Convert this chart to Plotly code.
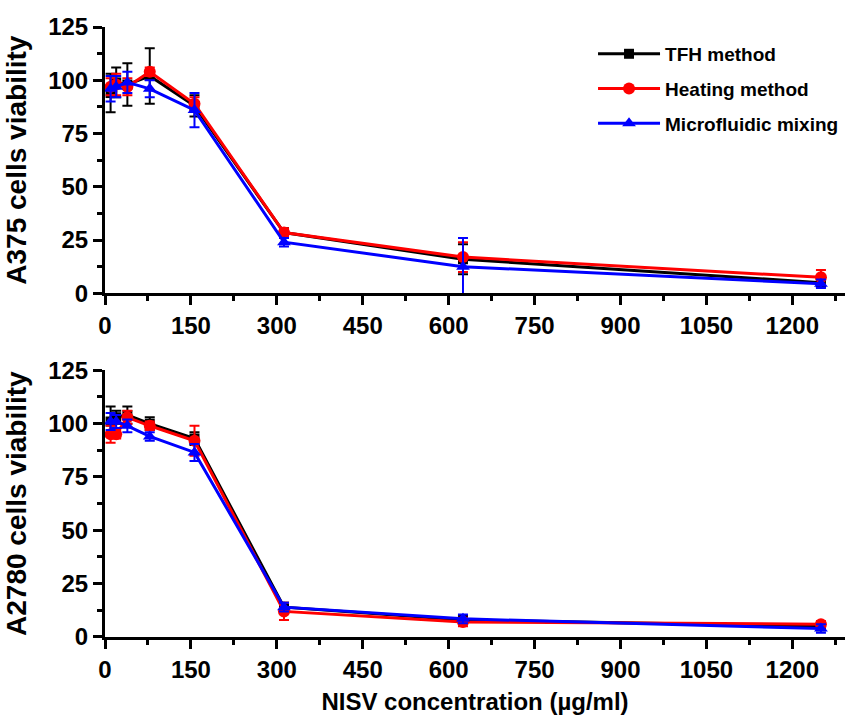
import plotly.graph_objects as go
from plotly.subplots import make_subplots

# NISV concentrations (two-fold dilution series, µg/ml)
concentration = [9.77, 19.53, 39.06, 78.13, 156.25, 312.5, 625, 1250]

# A375 viability (%) and SD
a375_tfh = [94, 99, 98, 102, 88, 28.5, 16, 5]
a375_tfh_sd = [9, 7, 10, 13, 5, 2, 7, 2]
a375_heat = [97, 98, 97, 104, 89, 28.5, 17, 7.5]
a375_heat_sd = [4, 5, 4, 2, 3, 2, 7, 3.5]
a375_micro = [96, 97, 99, 96, 86, 24, 12.5, 4.5]
a375_micro_sd = [6, 5, 5, 4, 8, 2, 13.5, 2]

# A2780 viability (%) and SD
a2780_tfh = [101, 103, 104, 100, 93, 14, 8, 5]
a2780_tfh_sd = [7, 3, 4, 3, 3, 2, 2, 1]
a2780_heat = [95, 95, 103, 99, 92, 12, 7, 6]
a2780_heat_sd = [4, 2, 3, 2, 7, 4, 2, 1.5]
a2780_micro = [101, 101, 99, 94, 86.5, 14, 8.5, 4]
a2780_micro_sd = [4, 3, 3, 2, 4, 2, 2, 2]

series_names = ["TFH method", "Heating method", "Microfluidic mixing"]
colors = ["#000000", "#ff0000", "#0000ff"]
symbols = ["square", "circle", "triangle-up"]
marker_sizes = [10, 12, 12]

x_ticks = [0, 150, 300, 450, 600, 750, 900, 1050, 1200]
y_ticks = [0, 25, 50, 75, 100, 125]

FONT = "Liberation Sans"

fig = make_subplots(rows=2, cols=1, vertical_spacing=0.0)

panels = [
    (1, [a375_tfh, a375_heat, a375_micro], [a375_tfh_sd, a375_heat_sd, a375_micro_sd]),
    (2, [a2780_tfh, a2780_heat, a2780_micro], [a2780_tfh_sd, a2780_heat_sd, a2780_micro_sd]),
]

for row, values, errors in panels:
    for i in range(3):
        fig.add_trace(
            go.Scatter(
                x=concentration,
                y=values[i],
                mode="lines+markers",
                name=series_names[i],
                legendgroup=series_names[i],
                showlegend=(row == 1),
                line=dict(color=colors[i], width=3),
                marker=dict(symbol=symbols[i], size=marker_sizes[i], color=colors[i]),
                error_y=dict(type="data", array=errors[i], color=colors[i],
                             thickness=2, width=5),
                cliponaxis=False,
            ),
            row=row, col=1,
        )

axis_common = dict(
    showline=True, linewidth=3, linecolor="black",
    ticks="outside", ticklen=9, tickwidth=3, tickcolor="black",
    showgrid=False, zeroline=False, mirror=False,
    tickfont=dict(family=FONT, size=24, color="black", weight="bold"),
)

for row in (1, 2):
    fig.update_xaxes(
        range=[0, 1292], tickvals=x_ticks,
        ticktext=[str(v) for v in x_ticks],
        minor=dict(dtick=75, tick0=0, ticklen=5, tickwidth=3, tickcolor="black",
                   ticks="outside", showgrid=False),
        **axis_common, row=row, col=1,
    )
    fig.update_yaxes(
        range=[0, 125], tickvals=y_ticks,
        minor=dict(dtick=12.5, tick0=0, ticklen=5, tickwidth=3, tickcolor="black",
                   ticks="outside", showgrid=False),
        title_standoff=14,
        **axis_common, row=row, col=1,
    )

fig.update_layout(
    yaxis=dict(domain=[0.5634, 1.0],
               title=dict(text="A375 cells viability",
                          font=dict(family=FONT, size=28, color="black", weight="bold"))),
    yaxis2=dict(domain=[0.0, 0.4372],
                title=dict(text="A2780 cells viability",
                           font=dict(family=FONT, size=28, color="black", weight="bold"))),
    xaxis2=dict(title=dict(text="NISV concentration (µg/ml)", standoff=12,
                           font=dict(family=FONT, size=24, color="black", weight="bold"))),
    width=851, height=725,
    margin=dict(l=105, r=6, t=27, b=88),
    paper_bgcolor="white", plot_bgcolor="white",
    showlegend=True,
    legend=dict(
        x=0.6595, y=0.987, xanchor="left", yanchor="top",
        font=dict(family=FONT, size=19, color="black", weight="bold"),
        bgcolor="rgba(0,0,0,0)", tracegroupgap=7, itemwidth=62,
    ),
)

fig.write_html("out.html")
